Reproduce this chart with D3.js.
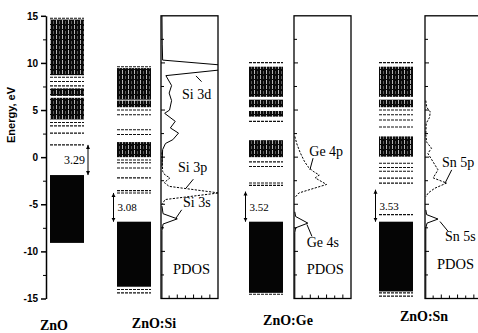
<!DOCTYPE html>
<html>
<head>
<meta charset="utf-8">
<script src="https://cdn.jsdelivr.net/npm/d3@7/dist/d3.min.js"></script>
<style>
  body { margin: 0; background: #fff; }
  svg { display: block; }
</style>
</head>
<body>
<svg id="chart" width="478" height="333"></svg>
<script>
// --- data (energies in eV) ---
const systems = ['ZnO', 'ZnO:Si', 'ZnO:Ge', 'ZnO:Sn'];
const gaps = [3.29, 3.08, 3.52, 3.53];

// conduction-band regions so dense they print as a block: [bottom, top]
const denseBlocks = [
  [[8.7, 14.6], [6.5, 7.3], [4.0, 6.3]],
  [[6.1, 9.45], [5.3, 6.0], [0.0, 1.6]],
  [[6.4, 9.6], [5.3, 6.1], [4.3, 4.9], [0.0, 1.8]],
  [[6.4, 9.6], [5.3, 6.1], [0.05, 2.2]]
];
// single dashed levels
const levels = [
  [14.74, 8.48, 8.02, 7.56, 3.67, 3.32, 2.55, 1.3],
  [9.6, 5.0, 4.5, 2.9, 2.4, -0.3, -0.6, -1.15, -2.2, -3.55, -3.8, -14.05, -14.4],
  [10.03, 3.8, -0.5, -1.0, -2.75, -3.0, -14.55],
  [10.03, 5.0, 4.5, 3.95, 3.2, -0.64, -1.1, -1.5, -2.23, -2.76, -6.1, -14.4, -14.75]
];
// filled valence band [bottom, top]
const valence = [[-9.1, -1.9], [-13.75, -6.85], [-14.4, -6.85], [-14.25, -6.85]];
// gap arrow ends [CBM, VBM]
const gapEdges = [[1.3, -1.9], [-3.8, -6.85], [-3.65, -6.85], [-3.45, -6.85]];

// PDOS curves: [energy, density (arb. units)]
const pdosSi3d = [[15, 0.12], [12, 0.15], [10.3, 0.2], [9.55, 10.5], [8.65, 0.6], [7.6, 1.3], [6.8, 1.0],
  [6.0, 1.3], [5.0, 1.05], [4.65, 0.45], [3.8, 1.75], [3.1, 1.15], [2.55, 2.15], [1.85, 1.45], [1.45, 0.55],
  [0.8, 0.2], [-1.0, 0.12]];
const pdosSi3p = [[0.5, 0.12], [-1.5, 0.2], [-1.9, 0.5], [-2.2, 1.1], [-2.7, 0.4], [-3.1, 1.0],
  [-3.8, 7.1], [-4.5, 0.5], [-5.0, 0.15]];
const pdosSi3s = [[-5.2, 0.12], [-6.0, 0.25], [-6.55, 2.0], [-7.1, 0.25], [-7.8, 0.12], [-15, 0.12]];
const pdosGe4p = [[2.2, 0.1], [1.4, 0.35], [0.5, 0.75], [-0.4, 1.25], [-1.0, 1.7], [-1.5, 2.35],
  [-1.9, 3.1], [-2.2, 2.6], [-2.9, 4.0], [-3.4, 2.1], [-3.8, 0.6], [-4.3, 0.1]];
const pdosGe4s = [[-5.8, 0.1], [-6.3, 0.2], [-7.0, 1.7], [-7.5, 0.2], [-8.0, 0.1], [-15, 0.1]];
const pdosSn5p = [[6.0, 0.1], [5.3, 0.2], [4.8, 0.65], [4.2, 0.55], [3.6, 0.15], [2.4, 0.1], [1.6, 0.2],
  [0.95, 0.8], [0.4, 0.35], [-0.3, 0.85], [-1.35, 1.6], [-2.2, 1.0], [-2.75, 2.65], [-3.3, 1.2],
  [-3.8, 0.4], [-4.2, 0.1]];
const pdosSn5s = [[-5.6, 0.1], [-6.1, 0.2], [-6.57, 1.6], [-7.0, 0.25], [-7.5, 0.1], [-15, 0.1]];

const energyTicks = [-15, -10, -5, 0, 5, 10, 15];
const energyMinor = [-12.5, -7.5, -2.5, 2.5, 7.5, 12.5];
const dosTicks = [1, 2, 3, 4, 5, 6];

// --- layout ---
const svg = d3.select('#chart');
const y = d3.scaleLinear().domain([-15, 15]).range([298.5, 15.8]);
const bandX = [50, 117, 249, 379], bandW = 34;
const nameX = [54, 154, 288, 424], nameY = [330, 328, 325, 321];
const serif = '"Liberation Serif", "Times New Roman", serif';

const defs = svg.append('defs');
const pat = defs.append('pattern').attr('id', 'dense')
  .attr('patternUnits', 'userSpaceOnUse').attr('width', 6).attr('height', 5);
pat.append('rect').attr('width', 6).attr('height', 5).attr('fill', '#0a0a0a');
pat.append('rect').attr('x', 2).attr('width', 1).attr('height', 4).attr('fill', '#fff').attr('opacity', 0.7);
pat.append('rect').attr('x', 5).attr('y', 1).attr('width', 0.8).attr('height', 3).attr('fill', '#fff').attr('opacity', 0.4);

defs.append('marker')
  .attr('id', 'head')
  .attr('viewBox', '0 -5 10 10')
  .attr('refX', 10).attr('refY', 0)
  .attr('markerUnits', 'userSpaceOnUse')
  .attr('markerWidth', 4).attr('markerHeight', 5)
  .attr('orient', 'auto-start-reverse')
  .append('path').attr('d', 'M0,-5L10,0L0,5Z').attr('fill', '#000');

// energy axis
const axis = svg.append('g').attr('transform', 'translate(46,0)')
  .call(d3.axisLeft(y).tickValues(energyTicks).tickSize(5).tickSizeOuter(0).tickPadding(3)
    .tickFormat(d => String(d)));
axis.select('.domain').attr('stroke-width', 1.5);
axis.selectAll('line').attr('stroke-width', 1.5);
axis.selectAll('text').attr('font-family', 'Arial, "Liberation Sans", sans-serif')
  .attr('font-weight', 'bold').attr('font-size', 10).attr('fill', '#000');
svg.append('g').attr('transform', 'translate(46,0)')
  .call(d3.axisLeft(y).tickValues(energyMinor).tickSize(3).tickFormat(''))
  .call(g => g.select('.domain').remove());

svg.append('text')
  .attr('transform', 'translate(15,115) rotate(-90)')
  .attr('text-anchor', 'middle')
  .attr('font-family', 'Arial, "Liberation Sans", sans-serif')
  .attr('font-weight', 'bold').attr('font-size', 11)
  .text('Energy, eV');

// band columns
systems.forEach((name, i) => {
  const g = svg.append('g');
  const x0 = bandX[i];

  g.selectAll('rect.block').data(denseBlocks[i]).join('rect')
    .attr('class', 'block')
    .attr('x', x0).attr('width', bandW)
    .attr('y', d => y(d[1])).attr('height', d => y(d[0]) - y(d[1]))
    .attr('fill', 'url(#dense)');

  g.selectAll('line.level').data(levels[i]).join('line')
    .attr('class', 'level')
    .attr('x1', x0).attr('x2', x0 + bandW)
    .attr('y1', d => y(d)).attr('y2', d => y(d))
    .attr('stroke', '#111').attr('stroke-width', 1.1)
    .attr('stroke-dasharray', '3,1');

  g.append('rect')
    .attr('x', x0).attr('width', bandW)
    .attr('y', y(valence[i][1])).attr('height', y(valence[i][0]) - y(valence[i][1]))
    .attr('fill', '#050505');

  // gap arrow: right of the band for ZnO, left of it for the doped cells
  const ax = i === 0 ? x0 + 38 : x0 - 3.5;
  g.append('line')
    .attr('x1', ax).attr('x2', ax)
    .attr('y1', y(gapEdges[i][0])).attr('y2', y(gapEdges[i][1]))
    .attr('stroke', '#000').attr('stroke-width', 1)
    .attr('marker-start', 'url(#head)').attr('marker-end', 'url(#head)');

  const mid = y((gapEdges[i][0] + gapEdges[i][1]) / 2);
  g.append('text')
    .attr('x', i === 0 ? x0 + 35 : x0 + 0.5)
    .attr('y', mid + 4)
    .attr('text-anchor', i === 0 ? 'end' : 'start')
    .attr('font-family', serif).attr('font-size', i === 0 ? 12 : 11)
    .text(gaps[i].toFixed(2));

  svg.append('text')
    .attr('x', nameX[i]).attr('y', nameY[i])
    .attr('text-anchor', 'middle')
    .attr('font-family', serif).attr('font-weight', 'bold').attr('font-size', 14)
    .text(name);
});

// PDOS panels
const panels = [
  { left: 161, curves: [[pdosSi3d, null], [pdosSi3p, '2.2,1.4'], [pdosSi3s, null]],
    pointers: [[[8.62, 4.3], [8.01, 4.98]], [[-2.34, 3.97], [-3.29, 3.07]], [[-5.59, 2.54], [-6.47, 1.84]]],
    labels: [['Si 3d', 6.18, 2.58], ['Si 3p', -1.56, 2.09], ['Si 3s', -5.33, 2.7], ['PDOS', -12.38, 1.47]] },
  { left: 294, curves: [[pdosGe4p, '2.2,1.4'], [pdosGe4s, null]],
    pointers: [[[-0.11, 2.34], [-1.35, 1.95]], [[-7.15, 1.59], [-8.42, 2.21]]],
    labels: [['Ge 4p', 0.13, 1.88], ['Ge 4s', -9.52, 1.56], ['PDOS', -12.38, 1.56]] },
  { left: 425, curves: [[pdosSn5p, '2.2,1.4'], [pdosSn5s, null]],
    pointers: [[[-1.35, 3.28], [-2.76, 2.46]], [[-6.83, 1.84], [-7.9, 2.86]]],
    labels: [['Sn 5p', -1.03, 2.09], ['Sn 5s', -8.92, 2.46], ['PDOS', -11.85, 1.47]] }
];
const boxW = 57;

panels.forEach((p, k) => {
  const x = d3.scaleLinear().domain([0, 7]).range([p.left, p.left + boxW]);
  const g = svg.append('g');
  const top = y(15), bottom = y(-15);

  defs.append('clipPath').attr('id', 'clip' + k)
    .append('rect').attr('x', p.left).attr('y', top).attr('width', boxW).attr('height', bottom - top);

  const line = d3.line().x(d => x(d[1])).y(d => y(d[0]));
  g.append('g').attr('clip-path', `url(#clip${k})`)
    .selectAll('path').data(p.curves).join('path')
    .attr('d', d => line(d[0]))
    .attr('fill', 'none').attr('stroke', '#000').attr('stroke-width', 1)
    .attr('stroke-dasharray', d => d[1]);

  g.append('rect')
    .attr('x', p.left).attr('y', top).attr('width', boxW).attr('height', bottom - top)
    .attr('fill', 'none').attr('stroke', '#000').attr('stroke-width', 1.3);

  // inward ticks on the energy side and the density side
  g.selectAll('line.ey').data(energyTicks.concat(energyMinor).filter(e => Math.abs(e) < 15)).join('line')
    .attr('class', 'ey')
    .attr('x1', p.left).attr('x2', d => p.left + (d % 5 === 0 ? 4 : 3))
    .attr('y1', d => y(d)).attr('y2', d => y(d))
    .attr('stroke', '#000');
  g.selectAll('line.dx').data(dosTicks).join('line')
    .attr('class', 'dx')
    .attr('x1', d => x(d)).attr('x2', d => x(d))
    .attr('y1', bottom).attr('y2', (d, i) => bottom - (i % 2 ? 4 : 3))
    .attr('stroke', '#000');

  g.selectAll('line.ptr').data(p.pointers).join('line')
    .attr('class', 'ptr')
    .attr('x1', d => x(d[0][1])).attr('y1', d => y(d[0][0]))
    .attr('x2', d => x(d[1][1])).attr('y2', d => y(d[1][0]))
    .attr('stroke', '#000').attr('stroke-width', 1);

  g.selectAll('text').data(p.labels).join('text')
    .attr('x', d => x(d[2])).attr('y', d => y(d[1]))
    .attr('font-family', serif).attr('font-size', d => d[0] === 'PDOS' ? 14.5 : 14)
    .text(d => d[0]);
});
</script>
</body>
</html>
